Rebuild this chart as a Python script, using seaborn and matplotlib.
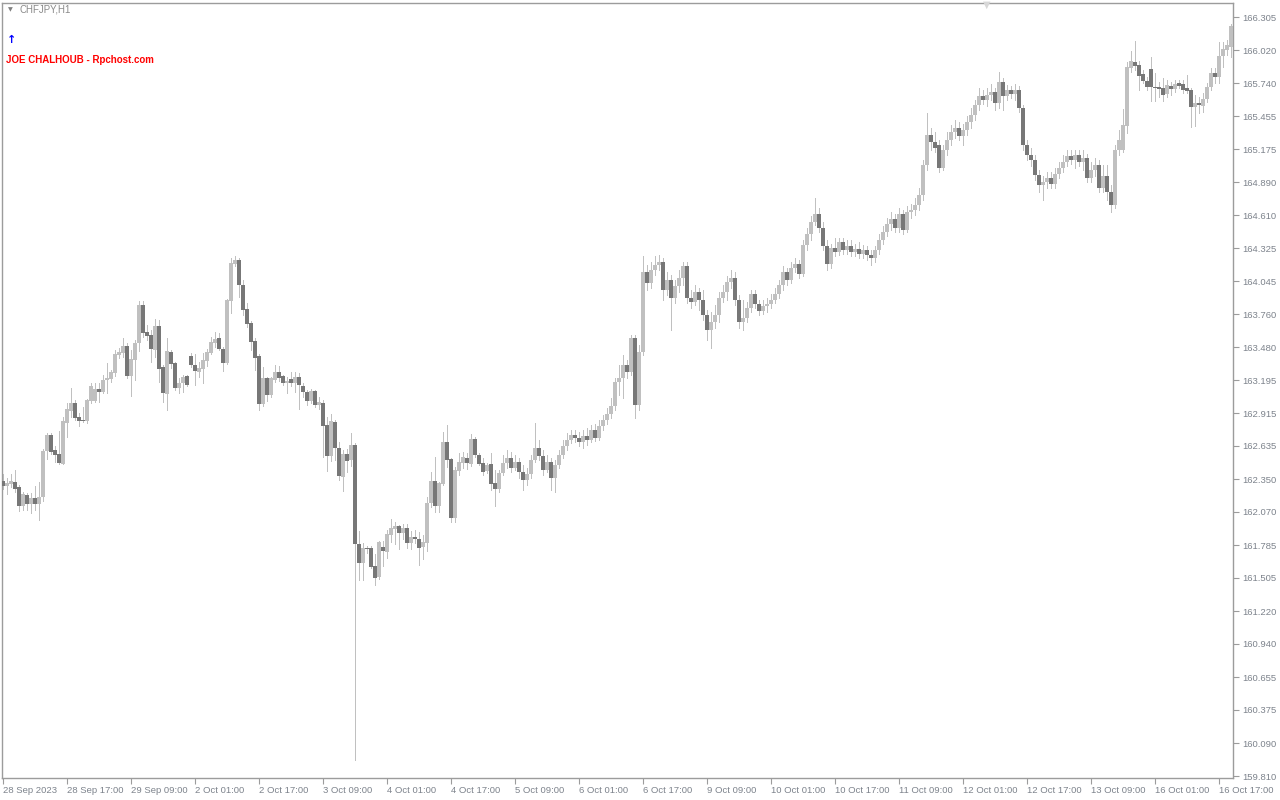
import numpy as np
import pandas as pd
import matplotlib
matplotlib.use("Agg")
import matplotlib.pyplot as plt
import seaborn as sns

symbol = "CHFJPY,H1"
watermark = "JOE CHALHOUB - Rpchost.com"

# H1 candles, 28 Sep 2023 01:00 .. 16 Oct 2023 20:00
opens = [
    162.334, 162.292, 162.309, 162.326, 162.283, 162.121, 162.215, 162.138, 162.189, 162.138,
    162.198, 162.591, 162.728, 162.600, 162.566, 162.480, 162.831, 162.933, 163.002, 162.882,
    162.857, 162.848, 163.019, 163.019, 163.122, 163.096, 163.199, 163.207, 163.259, 163.413,
    163.430, 163.490, 163.233, 163.370, 163.515, 163.841, 163.610, 163.584, 163.456, 163.661,
    163.310, 163.079, 163.438, 163.344, 163.130, 163.173, 163.233, 163.404, 163.327, 163.267,
    163.293, 163.361, 163.430, 163.515, 163.558, 163.464, 163.344, 163.875, 164.191, 164.226,
    164.012, 163.806, 163.687, 163.532, 163.404, 162.993, 163.216, 163.070, 163.199, 163.267,
    163.233, 163.173, 163.207, 163.173, 163.224, 163.147, 163.096, 163.019, 163.105, 162.985,
    163.002, 162.814, 162.548, 162.839, 162.617, 162.369, 162.566, 162.514, 162.643, 161.795,
    161.633, 161.761, 161.761, 161.607, 161.513, 161.770, 161.727, 161.872, 161.924, 161.949,
    161.890, 161.932, 161.804, 161.855, 161.838, 161.770, 161.804, 162.146, 162.334, 162.121,
    162.309, 162.668, 162.523, 162.018, 162.420, 162.489, 162.531, 162.480, 162.694, 162.557,
    162.489, 162.420, 162.480, 162.317, 162.266, 162.403, 162.489, 162.531, 162.446, 162.497,
    162.412, 162.343, 162.394, 162.514, 162.617, 162.548, 162.429, 162.497, 162.360, 162.471,
    162.557, 162.634, 162.685, 162.728, 162.702, 162.668, 162.720, 162.685, 162.771, 162.702,
    162.805, 162.857, 162.908, 162.976, 163.182, 163.216, 163.327, 163.267, 163.558, 162.985,
    163.438, 164.123, 164.029, 164.140, 164.183, 164.209, 163.969, 164.055, 163.900, 164.003,
    164.072, 164.174, 163.900, 163.866, 163.952, 163.883, 163.755, 163.627, 163.695, 163.755,
    163.900, 163.952, 164.037, 164.072, 163.883, 163.695, 163.729, 163.815, 163.935, 163.849,
    163.789, 163.832, 163.849, 163.883, 163.935, 164.012, 164.123, 164.055, 164.157, 164.191,
    164.106, 164.354, 164.448, 164.551, 164.619, 164.499, 164.346, 164.191, 164.328, 164.294,
    164.380, 164.311, 164.346, 164.294, 164.320, 164.277, 164.311, 164.268, 164.243, 164.311,
    164.397, 164.465, 164.534, 164.577, 164.499, 164.619, 164.482, 164.636, 164.654, 164.696,
    164.782, 165.039, 165.295, 165.235, 165.210, 165.013, 165.167, 165.253, 165.321, 165.355,
    165.287, 165.338, 165.407, 165.466, 165.552, 165.629, 165.595, 165.638, 165.663, 165.569,
    165.749, 165.629, 165.680, 165.646, 165.680, 165.526, 165.210, 165.124, 165.081, 164.953,
    164.867, 164.893, 164.927, 164.876, 164.962, 165.013, 165.064, 165.116, 165.081, 165.124,
    165.064, 165.098, 164.927, 164.996, 165.039, 164.842, 164.944, 164.808, 164.696, 165.167,
    165.167, 165.372, 165.869, 165.920, 165.894, 165.817, 165.757, 165.860, 165.706, 165.706,
    165.697, 165.646, 165.715, 165.689, 165.740, 165.732, 165.697, 165.680, 165.535, 165.569,
    165.544, 165.603, 165.706, 165.826, 165.792, 165.971, 166.023, 166.048,
]
highs = [
    162.394, 162.360, 162.394, 162.429, 162.300, 162.240, 162.232, 162.232, 162.292, 162.326,
    162.608, 162.745, 162.745, 162.634, 162.762, 162.882, 163.002, 163.130, 163.028, 162.916,
    162.968, 163.036, 163.173, 163.173, 163.173, 163.242, 163.344, 163.284, 163.456, 163.473,
    163.558, 163.515, 163.456, 163.541, 163.875, 163.875, 163.669, 163.627, 163.721, 163.712,
    163.327, 163.558, 163.456, 163.353, 163.216, 163.242, 163.242, 163.430, 163.421, 163.353,
    163.430, 163.464, 163.567, 163.610, 163.601, 163.481, 163.892, 164.243, 164.260, 164.243,
    164.055, 163.858, 163.704, 163.558, 163.421, 163.310, 163.224, 163.224, 163.327, 163.319,
    163.242, 163.224, 163.267, 163.267, 163.259, 163.173, 163.113, 163.122, 163.113, 163.053,
    163.028, 162.882, 162.908, 162.857, 162.668, 162.600, 162.608, 162.745, 162.660, 161.907,
    161.804, 161.778, 161.778, 161.710, 161.821, 161.821, 161.915, 162.009, 161.984, 161.958,
    161.967, 161.967, 161.907, 161.915, 161.898, 161.872, 162.198, 162.412, 162.540, 162.326,
    162.754, 162.814, 162.531, 162.454, 162.574, 162.583, 162.574, 162.737, 162.711, 162.574,
    162.531, 162.489, 162.574, 162.429, 162.429, 162.557, 162.600, 162.583, 162.557, 162.531,
    162.471, 162.446, 162.557, 162.831, 162.685, 162.600, 162.557, 162.531, 162.514, 162.600,
    162.685, 162.745, 162.771, 162.771, 162.754, 162.771, 162.788, 162.814, 162.822, 162.857,
    162.899, 162.959, 163.045, 163.216, 163.327, 163.413, 163.370, 163.584, 163.584, 163.498,
    164.260, 164.183, 164.209, 164.260, 164.268, 164.243, 164.123, 164.097, 164.055, 164.140,
    164.209, 164.209, 163.969, 164.012, 163.986, 163.969, 163.798, 163.781, 163.841, 163.952,
    164.012, 164.089, 164.140, 164.123, 163.926, 163.883, 163.866, 163.969, 163.969, 163.883,
    163.883, 163.900, 163.935, 163.986, 164.055, 164.174, 164.157, 164.209, 164.243, 164.226,
    164.397, 164.499, 164.602, 164.756, 164.671, 164.551, 164.397, 164.363, 164.414, 164.414,
    164.414, 164.397, 164.397, 164.363, 164.380, 164.354, 164.346, 164.311, 164.346, 164.448,
    164.517, 164.585, 164.636, 164.619, 164.671, 164.654, 164.688, 164.705, 164.756, 164.842,
    165.081, 165.484, 165.355, 165.321, 165.253, 165.210, 165.321, 165.381, 165.424, 165.407,
    165.389, 165.458, 165.526, 165.595, 165.697, 165.680, 165.697, 165.732, 165.697, 165.834,
    165.783, 165.723, 165.715, 165.732, 165.715, 165.552, 165.253, 165.184, 165.124, 164.996,
    164.944, 164.979, 164.979, 165.013, 165.064, 165.124, 165.167, 165.167, 165.167, 165.167,
    165.167, 165.133, 165.064, 165.098, 165.081, 165.039, 165.039, 164.867, 165.210, 165.338,
    165.518, 165.920, 166.014, 166.100, 165.929, 165.852, 165.792, 165.963, 165.826, 165.749,
    165.783, 165.766, 165.749, 165.766, 165.766, 165.766, 165.809, 165.697, 165.638, 165.621,
    165.655, 165.740, 165.869, 165.869, 166.091, 166.091, 166.108, 166.245,
]
lows = [
    162.266, 162.223, 162.283, 162.240, 162.078, 162.086, 162.086, 162.061, 162.086, 162.001,
    162.163, 162.523, 162.566, 162.497, 162.480, 162.480, 162.711, 162.882, 162.857, 162.805,
    162.839, 162.831, 163.002, 163.011, 163.011, 163.088, 163.088, 163.182, 163.233, 163.387,
    163.396, 163.216, 163.062, 163.199, 163.447, 163.567, 163.541, 163.353, 163.396, 163.182,
    163.011, 162.942, 163.301, 163.113, 163.088, 163.096, 163.147, 163.310, 163.156, 163.224,
    163.173, 163.319, 163.421, 163.481, 163.456, 163.276, 163.336, 163.772, 164.174, 163.909,
    163.755, 163.652, 163.456, 163.284, 162.942, 162.976, 163.019, 163.053, 163.182, 163.190,
    163.156, 163.088, 163.147, 163.096, 162.951, 163.053, 162.985, 163.002, 162.968, 162.951,
    162.540, 162.420, 162.506, 162.514, 162.343, 162.249, 162.412, 162.463, 159.947, 161.487,
    161.487, 161.718, 161.590, 161.445, 161.496, 161.607, 161.676, 161.812, 161.795, 161.753,
    161.838, 161.761, 161.753, 161.804, 161.616, 161.667, 161.735, 162.112, 162.069, 162.069,
    162.300, 162.454, 161.984, 161.984, 162.386, 162.446, 162.437, 162.463, 162.540, 162.471,
    162.386, 162.403, 162.257, 162.121, 162.240, 162.386, 162.446, 162.412, 162.429, 162.360,
    162.257, 162.300, 162.360, 162.497, 162.514, 162.386, 162.412, 162.257, 162.240, 162.446,
    162.531, 162.600, 162.660, 162.668, 162.634, 162.617, 162.643, 162.668, 162.677, 162.685,
    162.771, 162.822, 162.874, 162.942, 163.070, 163.045, 163.216, 163.242, 162.874, 162.942,
    163.413, 163.969, 163.986, 164.097, 164.140, 163.883, 163.926, 163.627, 163.858, 163.952,
    164.012, 163.858, 163.815, 163.841, 163.798, 163.712, 163.541, 163.473, 163.644, 163.695,
    163.866, 163.883, 163.986, 163.841, 163.644, 163.627, 163.695, 163.781, 163.815, 163.755,
    163.764, 163.781, 163.815, 163.858, 163.900, 163.969, 164.012, 164.029, 164.123, 164.072,
    164.089, 164.311, 164.397, 164.525, 164.465, 164.311, 164.140, 164.157, 164.260, 164.268,
    164.277, 164.277, 164.260, 164.260, 164.243, 164.243, 164.226, 164.183, 164.209, 164.277,
    164.363, 164.431, 164.482, 164.465, 164.465, 164.448, 164.465, 164.585, 164.611, 164.654,
    164.739, 164.996, 165.167, 165.150, 164.979, 164.996, 165.124, 165.210, 165.270, 165.253,
    165.210, 165.295, 165.355, 165.424, 165.509, 165.561, 165.544, 165.595, 165.509, 165.526,
    165.509, 165.595, 165.612, 165.595, 165.492, 165.167, 165.081, 165.030, 164.910, 164.808,
    164.739, 164.842, 164.842, 164.842, 164.927, 164.979, 165.030, 165.047, 165.013, 165.030,
    164.996, 164.893, 164.893, 164.944, 164.808, 164.808, 164.739, 164.636, 164.671, 165.124,
    165.150, 165.312, 165.834, 165.852, 165.680, 165.740, 165.680, 165.586, 165.586, 165.621,
    165.586, 165.621, 165.638, 165.663, 165.697, 165.655, 165.655, 165.364, 165.372, 165.484,
    165.492, 165.578, 165.680, 165.740, 165.740, 165.877, 165.980, 165.963,
]
closes = [
    162.292, 162.317, 162.334, 162.266, 162.121, 162.223, 162.138, 162.189, 162.138, 162.198,
    162.591, 162.728, 162.583, 162.557, 162.489, 162.848, 162.951, 163.002, 162.874, 162.848,
    162.848, 163.028, 163.147, 163.122, 163.096, 163.199, 163.216, 163.267, 163.421, 163.438,
    163.490, 163.233, 163.379, 163.515, 163.841, 163.601, 163.575, 163.464, 163.661, 163.293,
    163.088, 163.447, 163.336, 163.130, 163.173, 163.224, 163.156, 163.327, 163.276, 163.301,
    163.370, 163.438, 163.524, 163.550, 163.464, 163.344, 163.883, 164.200, 164.226, 164.012,
    163.798, 163.678, 163.524, 163.387, 162.993, 163.216, 163.070, 163.216, 163.267, 163.216,
    163.173, 163.190, 163.173, 163.224, 163.156, 163.096, 163.019, 163.105, 162.985, 163.011,
    162.805, 162.548, 162.848, 162.617, 162.377, 162.566, 162.506, 162.643, 161.795, 161.633,
    161.761, 161.753, 161.599, 161.504, 161.812, 161.735, 161.881, 161.932, 161.949, 161.890,
    161.932, 161.804, 161.855, 161.838, 161.761, 161.812, 162.146, 162.334, 162.121, 162.317,
    162.668, 162.514, 162.018, 162.429, 162.497, 162.540, 162.489, 162.694, 162.557, 162.480,
    162.412, 162.471, 162.309, 162.266, 162.403, 162.489, 162.531, 162.446, 162.497, 162.412,
    162.343, 162.394, 162.514, 162.617, 162.548, 162.429, 162.497, 162.360, 162.471, 162.557,
    162.634, 162.685, 162.728, 162.702, 162.668, 162.720, 162.685, 162.771, 162.702, 162.805,
    162.857, 162.908, 162.976, 163.182, 163.216, 163.327, 163.267, 163.558, 162.985, 163.438,
    164.123, 164.029, 164.140, 164.183, 164.209, 163.969, 164.055, 163.900, 164.003, 164.072,
    164.174, 163.900, 163.866, 163.952, 163.883, 163.755, 163.627, 163.695, 163.755, 163.900,
    163.952, 164.037, 164.072, 163.883, 163.695, 163.729, 163.815, 163.935, 163.849, 163.789,
    163.832, 163.849, 163.883, 163.935, 164.012, 164.123, 164.055, 164.157, 164.191, 164.106,
    164.354, 164.448, 164.551, 164.619, 164.499, 164.346, 164.191, 164.328, 164.294, 164.380,
    164.311, 164.346, 164.294, 164.320, 164.277, 164.311, 164.268, 164.243, 164.311, 164.397,
    164.465, 164.534, 164.577, 164.499, 164.619, 164.482, 164.636, 164.654, 164.696, 164.782,
    165.039, 165.295, 165.235, 165.184, 165.013, 165.167, 165.253, 165.321, 165.355, 165.287,
    165.338, 165.407, 165.466, 165.552, 165.629, 165.595, 165.638, 165.663, 165.569, 165.749,
    165.629, 165.680, 165.646, 165.680, 165.526, 165.210, 165.124, 165.081, 164.953, 164.867,
    164.893, 164.927, 164.876, 164.962, 165.013, 165.064, 165.116, 165.081, 165.124, 165.064,
    165.098, 164.927, 164.996, 165.039, 164.842, 164.944, 164.808, 164.696, 165.167, 165.253,
    165.381, 165.877, 165.929, 165.886, 165.800, 165.757, 165.706, 165.706, 165.697, 165.689,
    165.638, 165.723, 165.689, 165.732, 165.715, 165.680, 165.672, 165.535, 165.569, 165.552,
    165.603, 165.706, 165.826, 165.792, 165.971, 166.031, 166.065, 166.228,
]

time_labels = [
    "28 Sep 2023", "28 Sep 17:00", "29 Sep 09:00", "2 Oct 01:00", "2 Oct 17:00",
    "3 Oct 09:00", "4 Oct 01:00", "4 Oct 17:00", "5 Oct 09:00", "6 Oct 01:00",
    "6 Oct 17:00", "9 Oct 09:00", "10 Oct 01:00", "10 Oct 17:00", "11 Oct 09:00",
    "12 Oct 01:00", "12 Oct 17:00", "13 Oct 09:00", "16 Oct 01:00", "16 Oct 17:00",
]
label_step = 16  # one time label every 16 bars

price_ticks = [
    166.305, 166.020, 165.740, 165.455, 165.175, 164.890, 164.610, 164.325,
    164.045, 163.760, 163.480, 163.195, 162.915, 162.635, 162.350, 162.070,
    161.785, 161.505, 161.220, 160.940, 160.655, 160.375, 160.090, 159.810,
]

BULL = "#c0c0c0"
BEAR = "#777777"
WICK = "#c0c0c0"
AXIS = "#9c9c9c"
TEXT = "#7d838c"

sns.set_style("white")
plt.rcParams["font.family"] = ["Liberation Sans", "DejaVu Sans"]

df = pd.DataFrame({"open": opens, "high": highs, "low": lows, "close": closes})
df["bar"] = np.arange(len(df))
df["bull"] = df["close"] > df["open"]

fig = plt.figure(figsize=(12.8, 8), dpi=100)
ax = fig.add_axes([2 / 1280, 22 / 800, 1231 / 1280, 775 / 800])

# wicks: one light grey for every bar (MT4 "bar up / bar down" colour)
ax.vlines(df["bar"], df["low"], df["high"], color=WICK, lw=0.72,
          antialiased=False, zorder=2)

for is_bull, colour in [(True, BULL), (False, BEAR)]:
    sub = df[df["bull"] == is_bull]
    body_lo = np.minimum(sub["open"], sub["close"])
    body_h = np.maximum((sub["close"] - sub["open"]).abs(), 0.009)
    ax.bar(sub["bar"], body_h, bottom=body_lo, width=0.76, color=colour,
           linewidth=0, antialiased=False, zorder=3)

ax.set_xlim(-0.25, len(df) - 0.5)
ax.set_ylim(159.793, 166.425)

# price scale on the right
ax.yaxis.tick_right()
ax.set_yticks(price_ticks)
ax.set_yticklabels([f"{p:.3f}" for p in price_ticks])
ax.tick_params(axis="y", length=4, width=0.8, pad=3, colors=AXIS,
               labelcolor=TEXT, labelsize=6.8, right=True, left=False)

# time scale
label_bars = list(range(0, len(df), label_step))[: len(time_labels)]
ax.set_xticks(label_bars)
ax.set_xticklabels(time_labels)
for lab in ax.get_xticklabels():
    lab.set_horizontalalignment("left")
ax.tick_params(axis="x", length=4, width=0.8, pad=2, colors=AXIS,
               labelcolor=TEXT, labelsize=6.8, bottom=True)

for side in ["left", "right", "top", "bottom"]:
    ax.spines[side].set_visible(True)
    ax.spines[side].set_color(AXIS)
    ax.spines[side].set_linewidth(1.0)
ax.grid(False)
ax.set_facecolor("white")

# chart header, indicator marks
fig.text(8 / 1280, 1 - 10 / 800, "\u25BC", fontsize=4.5, color="#808080",
         va="center", ha="left", family="DejaVu Sans")
fig.text(19 / 1280, 1 - 10 / 800, symbol, fontsize=7, color="#8a8a8a",
         va="center", ha="left")
fig.text(12 / 1280, 1 - 40 / 800, "\u2191", fontsize=8, color="#0000ff",
         fontweight="bold", va="center", ha="center", family="DejaVu Sans")
fig.text(6 / 1280, 1 - 60 / 800, watermark, fontsize=7, color="#ff0000",
         fontweight="bold", va="center", ha="left")
fig.text(987 / 1280, 1 - 5 / 800, "\u25BC", fontsize=7, color="#d8d8d8",
         va="center", ha="center", family="DejaVu Sans")

fig.savefig("out.png", dpi=100, facecolor="white")
